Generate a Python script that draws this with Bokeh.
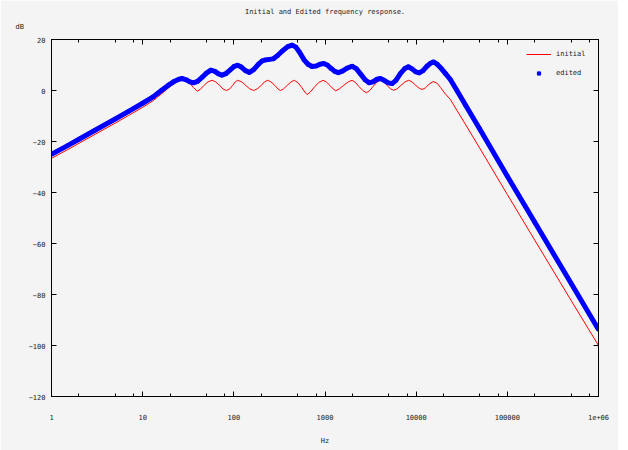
from bokeh.plotting import figure
from bokeh.models import (FixedTicker, LogAxis, LinearAxis, Legend, LegendItem, Title,
                          CustomJSTickFormatter, Range1d)
from bokeh.embed import file_html
from bokeh.resources import INLINE

# ---- data ----
freq_initial = [1, 1.5, 2, 3, 5, 7, 10, 13, 16, 19, 22, 25, 27, 30, 33, 36, 39.6, 43, 47, 52,
                57.8, 63, 70, 76, 83, 90, 97, 104, 110, 122, 135, 150, 165, 180, 200, 217,
                235, 255, 282, 305, 324, 350, 385, 425, 461, 505, 555, 600, 637, 690, 760,
                850, 953, 1030, 1130, 1230, 1310, 1430, 1600, 1800, 1980, 2150, 2350, 2600,
                2845, 3100, 3370, 3700, 4050, 4400, 4800, 5250, 5660, 6150, 6800, 7550, 8280,
                9000, 9900, 10800, 11600, 12600, 13800, 15300, 16800, 18500, 20500, 23700,
                28000, 35000, 50000, 100000, 200000, 500000, 1000000]
db_initial = [-26.6, -23.2, -20.7, -17.2, -12.8, -9.8, -6.6, -4.0, -1.4, 0.9, 2.7, 3.9, 4.4,
              4.0, 2.8, 1.2, -0.3, 0.5, 2.0, 3.4,
              4.0, 3.4, 2.0, 0.6, 0.0, 0.6, 2.0, 3.4, 4.0, 3.4, 2.0, 0.6, 0.0, 0.6, 2.0, 3.4,
              4.0, 3.4, 2.0, 0.6, 0.0, 0.6, 2.0, 3.4, 4.0, 3.1, 1.2, -0.6, -1.6, -0.6, 1.2,
              3.1, 4.0, 3.4, 2.0, 0.6, -0.1, 0.6, 2.0, 3.4, 4.0, 3.2, 1.6, 0.0,
              -0.9, 0.0, 1.6, 3.2, 4.0, 3.4, 2.0, 0.6, 0.1, 0.6, 2.0, 3.4, 4.0,
              3.4, 2.0, 0.9, 0.4, 1.0, 2.4, 3.5, 3.0, 1.2, -1.0, -3.5,
              -7.8, -13.5, -22.7, -40.8, -58.7, -82.3, -100.0]

freq_edited = [1, 1.5, 2, 3, 5, 7, 10, 13, 16, 19, 22, 25, 27, 30, 33, 36, 40, 45, 50, 56,
               62, 68, 74, 82, 92, 101, 110, 120, 134, 148, 165, 185, 205, 222, 245, 270,
               300, 340, 390, 436, 480, 530, 590, 650, 720, 800, 880, 968, 1060, 1170, 1280,
               1400, 1550, 1750, 1980, 2200, 2450, 2750, 3050, 3350, 3700, 4050, 4450, 4950,
               5440, 6000, 6700, 7500, 8200, 9000, 9900, 10800, 11900, 13200, 14500, 15500,
               17000, 19000, 21000, 23700, 28000, 35000, 50000, 100000, 200000, 500000, 1000000]
db_edited = [-25.0, -21.6, -19.1, -15.6, -11.2, -8.2, -5.0, -2.5, 0.0, 2.0, 3.5, 4.4, 4.7,
             4.2, 3.4, 3.0, 3.6, 5.2, 6.8, 8.0,
             7.5, 6.5, 6.0, 6.6, 8.2, 9.5, 9.9, 9.3, 7.8, 7.1, 8.2, 10.2, 11.6, 12.0, 12.2, 12.4,
             13.6, 15.5, 17.2, 17.8, 17.0, 14.8, 12.0, 10.3, 9.4, 9.6, 10.3, 10.6, 10.0, 8.6, 7.5,
             7.0, 7.6, 8.8, 9.5, 8.6, 6.5, 4.2, 3.0, 3.4, 4.4, 4.7, 4.0, 3.0,
             2.7, 4.0, 6.6, 8.6, 9.3, 8.5, 7.3, 6.9, 7.8, 9.6, 10.8, 11.2,
             10.3, 8.5, 6.6, 4.3, 0.0, -5.9, -15.2, -33.6, -51.7, -75.6, -93.7]

x_major_ticks = [1, 10, 100, 1000, 10000, 100000, 1000000]
x_minor_ticks = [2, 5, 8, 20, 50, 80, 200, 500, 800, 2000, 5000, 8000,
                 20000, 50000, 80000, 200000, 500000, 800000]
y_ticks = [-120, -100, -80, -60, -40, -20, 0, 20]

title_text = "Initial and Edited frequency response."
x_label = "Hz"
y_label = "dB"
series_names = ["initial", "edited"]

FONT = "DejaVu Sans Mono"
FS = "7px"
TXT = "#222222"
BG = "#f4f4f4"

p = figure(width=618, height=450, x_axis_type="log",
           x_range=Range1d(1, 1000000), y_range=Range1d(-120, 20),
           output_backend="svg", toolbar_location=None,
           min_border_left=51, min_border_right=20, min_border_top=39, min_border_bottom=54,
           background_fill_color=BG, border_fill_color=BG)
p.grid.visible = False
p.outline_line_color = "black"
p.outline_line_width = 1

xticker = FixedTicker(ticks=x_major_ticks, minor_ticks=x_minor_ticks)
yticker = FixedTicker(ticks=y_ticks, minor_ticks=[])
fmt = CustomJSTickFormatter(code="return tick >= 1e6 ? '1e+06' : String(Math.round(tick));")


def style_axis(ax, show_labels):
    ax.axis_line_color = "black"
    ax.axis_line_width = 1
    ax.major_tick_line_color = "black"
    ax.minor_tick_line_color = "black"
    ax.major_tick_in = 5
    ax.major_tick_out = 0
    ax.minor_tick_in = 3
    ax.minor_tick_out = 0
    ax.major_label_text_font = FONT
    ax.major_label_text_color = TXT
    ax.major_label_text_font_size = FS
    ax.axis_label_text_font = FONT
    ax.axis_label_text_font_size = FS
    ax.axis_label_text_font_style = "normal"
    ax.axis_label_text_color = TXT
    if not show_labels:
        ax.major_label_text_alpha = 0
        ax.major_label_standoff = 0


xa = p.xaxis[0]
xa.ticker = xticker
xa.formatter = fmt
style_axis(xa, True)
xa.major_label_standoff = 17
xa.axis_label = x_label
xa.axis_label_standoff = 14

ya = p.yaxis[0]
ya.ticker = yticker
style_axis(ya, True)
ya.major_label_standoff = 6

top = LogAxis(ticker=xticker)
style_axis(top, False)
p.add_layout(top, "above")
right = LinearAxis(ticker=yticker)
style_axis(right, False)
p.add_layout(right, "right")

# "dB" unit label at the top-left, then the main title above it
db_title = Title(text=y_label, align="left", offset=-36, standoff=14, vertical_align="top",
                 text_font=FONT, text_font_size=FS, text_font_style="normal", text_color=TXT)
p.add_layout(db_title, "above")
main_title = Title(text=title_text, align="center", standoff=0,
                   text_font=FONT, text_font_size=FS, text_font_style="normal", text_color=TXT)
p.add_layout(main_title, "above")

r_init = p.line(freq_initial, db_initial, color="#ff0000", line_width=1)
r_pts = p.scatter(freq_edited, db_edited, marker="square", size=3, color="#0000ff")
r_edit = p.line(freq_edited, db_edited, color="#0000ff", line_width=5, line_join="round")

legend = Legend(items=[LegendItem(label=series_names[0], renderers=[r_init]),
                       LegendItem(label=series_names[1], renderers=[r_pts])],
                location=(475, 315), padding=0, spacing=3, margin=0,
                glyph_width=25, glyph_height=8, label_height=16, label_standoff=5,
                label_text_font=FONT, label_text_font_size=FS, label_text_color=TXT,
                background_fill_alpha=0, border_line_color=None)
p.add_layout(legend)

open("out.html", "w").write(file_html(p, INLINE))
